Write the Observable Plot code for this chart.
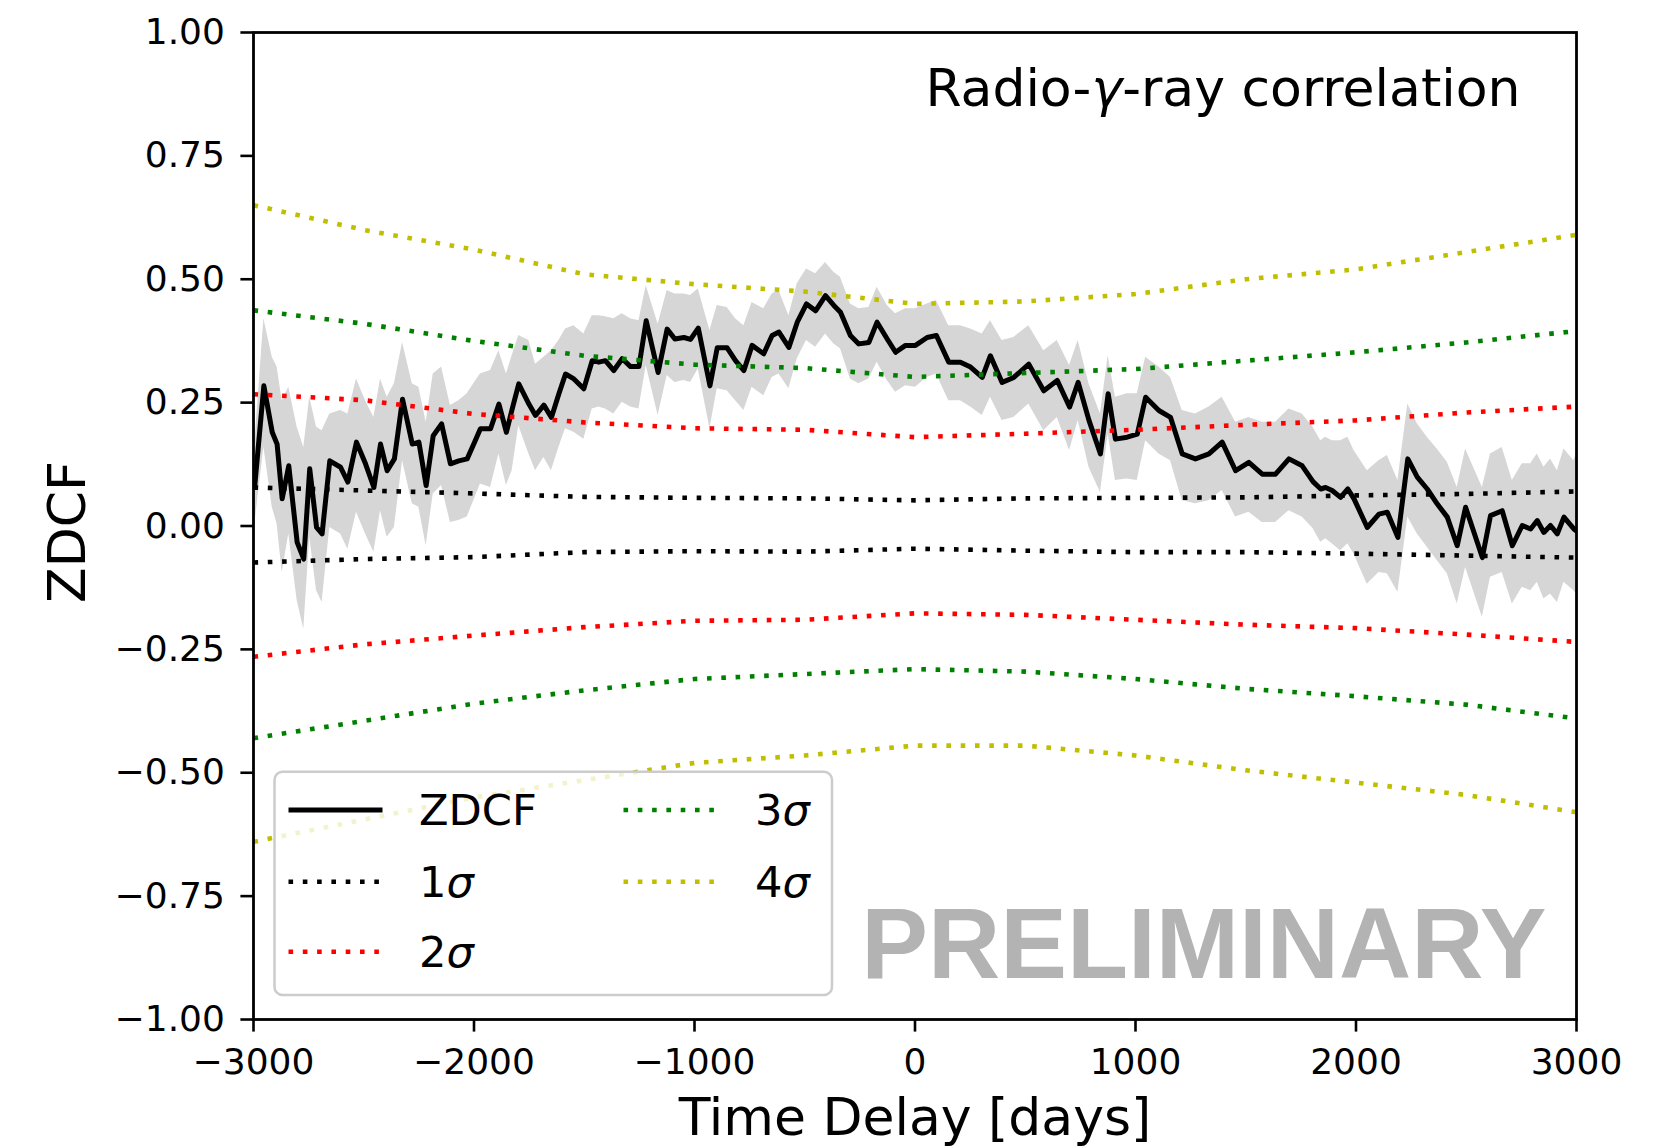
<!DOCTYPE html>
<html>
<head>
<meta charset="utf-8">
<script src="https://cdn.jsdelivr.net/npm/d3@7"></script>
<script src="https://cdn.jsdelivr.net/npm/@observablehq/plot@0.6"></script>
<style>
  html, body { margin: 0; padding: 0; background: #fff; overflow: hidden; }
  #chart svg { display: block; }
</style>
</head>
<body>
<div id="chart"></div>
<script>
// Z-transformed discrete correlation function, radio vs gamma-ray light curves
const lag = [
  -2995, -2953, -2915, -2893, -2870, -2840, -2802, -2772, -2745, -2714,
  -2689, -2654, -2605, -2572, -2533, -2492, -2454, -2424, -2394, -2361,
  -2324, -2280, -2250, -2217, -2185, -2147, -2107, -2069, -2031, -2001,
  -1971, -1925, -1887, -1853, -1827, -1797, -1751, -1721, -1683, -1649,
  -1615, -1585, -1547, -1502, -1464, -1434, -1404, -1366, -1328, -1290,
  -1252, -1219, -1165, -1124, -1089, -1048, -1018, -983, -930, -897,
  -852, -814, -776, -739, -686, -648, -617, -572, -534, -492,
  -451, -406, -368, -338, -293, -255, -209, -172, -126, -88,
  -43, 2, 55, 97, 153, 206, 252, 305, 342, 395,
  448, 516, 584, 645, 701, 740, 789, 841, 876, 909,
  962, 1008, 1046, 1106, 1159, 1212, 1272, 1333, 1393, 1454,
  1514, 1575, 1635, 1696, 1756, 1805, 1840, 1862, 1892, 1930,
  1963, 1991, 2051, 2104, 2142, 2190, 2235, 2278, 2323, 2368,
  2414, 2459, 2497, 2573, 2610, 2663, 2709, 2754, 2792, 2822,
  2852, 2882, 2913, 2943, 2988, 3000
];
const zdcf = [
  0.078, 0.284, 0.19, 0.166, 0.055, 0.122, -0.033, -0.067, 0.116, -0.003,
  -0.016, 0.132, 0.119, 0.089, 0.17, 0.126, 0.078, 0.166, 0.112, 0.136,
  0.257, 0.166, 0.17, 0.082, 0.183, 0.207, 0.126, 0.132, 0.136, 0.166,
  0.197, 0.197, 0.247, 0.19, 0.237, 0.288, 0.247, 0.224, 0.245, 0.22,
  0.268, 0.308, 0.298, 0.278, 0.335, 0.332, 0.335, 0.315, 0.339, 0.323,
  0.323, 0.416, 0.311, 0.399, 0.379, 0.382, 0.378, 0.401, 0.284, 0.361,
  0.361, 0.335, 0.315, 0.366, 0.349, 0.386, 0.393, 0.362, 0.413, 0.45,
  0.436, 0.467, 0.447, 0.433, 0.386, 0.369, 0.372, 0.413, 0.379, 0.352,
  0.366, 0.366, 0.382, 0.386, 0.332, 0.332, 0.322, 0.301, 0.345, 0.291,
  0.301, 0.328, 0.274, 0.295, 0.241, 0.291, 0.214, 0.146, 0.268, 0.176,
  0.18, 0.186, 0.261, 0.234, 0.22, 0.146, 0.136, 0.146, 0.17, 0.112,
  0.129, 0.105, 0.105, 0.136, 0.122, 0.09, 0.075, 0.078, 0.072, 0.058,
  0.075, 0.055, -0.003, 0.024, 0.028, -0.023, 0.136, 0.099, 0.075, 0.045,
  0.018, -0.04, 0.038, -0.064, 0.021, 0.031, -0.04, 0.001, -0.006, 0.011,
  -0.013, 0.001, -0.016, 0.018, -0.006, -0.01
];
// lower and upper bounds of the ZDCF error band
const zdcfLo = [
  0.0, 0.16, 0.038, 0.004, -0.094, -0.016, -0.151, -0.209, -0.023, -0.131,
  -0.155, -0.003, -0.016, -0.047, 0.028, -0.016, -0.053, 0.031, -0.023, -0.003,
  0.132, 0.045, 0.038, -0.04, 0.065, 0.082, 0.007, 0.011, 0.018, 0.051,
  0.085, 0.078, 0.146, 0.082, 0.112, 0.203, 0.146, 0.112, 0.139, 0.112,
  0.159, 0.197, 0.19, 0.176, 0.237, 0.241, 0.237, 0.227, 0.251, 0.241,
  0.237, 0.325, 0.224, 0.305, 0.291, 0.295, 0.291, 0.318, 0.197, 0.278,
  0.274, 0.254, 0.234, 0.281, 0.264, 0.301, 0.308, 0.278, 0.339, 0.376,
  0.362, 0.389, 0.369, 0.359, 0.298, 0.288, 0.298, 0.332, 0.295, 0.271,
  0.284, 0.281, 0.301, 0.308, 0.254, 0.254, 0.241, 0.224, 0.261, 0.214,
  0.22, 0.247, 0.193, 0.22, 0.153, 0.214, 0.119, 0.068, 0.186, 0.092,
  0.095, 0.092, 0.173, 0.146, 0.132, 0.051, 0.045, 0.051, 0.072, 0.018,
  0.028, 0.007, 0.007, 0.031, 0.018, -0.005, -0.033, -0.026, -0.036, -0.05,
  -0.036, -0.057, -0.118, -0.094, -0.097, -0.134, 0.018, -0.016, -0.043, -0.07,
  -0.097, -0.158, -0.084, -0.185, -0.104, -0.094, -0.158, -0.124, -0.131, -0.114,
  -0.148, -0.138, -0.155, -0.114, -0.131, -0.138
];
const zdcfHi = [
  0.16, 0.42, 0.342, 0.322, 0.254, 0.281, 0.2, 0.159, 0.261, 0.2,
  0.193, 0.227, 0.234, 0.227, 0.298, 0.254, 0.22, 0.298, 0.261, 0.288,
  0.372, 0.288, 0.281, 0.21, 0.308, 0.322, 0.244, 0.254, 0.268, 0.288,
  0.308, 0.315, 0.355, 0.308, 0.345, 0.386, 0.376, 0.328, 0.342, 0.355,
  0.376, 0.399, 0.406, 0.389, 0.426, 0.426, 0.424, 0.42, 0.43, 0.42,
  0.416, 0.487, 0.409, 0.477, 0.47, 0.47, 0.467, 0.48, 0.396, 0.447,
  0.443, 0.42, 0.406, 0.453, 0.44, 0.47, 0.477, 0.426, 0.491, 0.521,
  0.511, 0.534, 0.514, 0.504, 0.45, 0.44, 0.443, 0.484, 0.447, 0.43,
  0.44, 0.44, 0.45, 0.457, 0.406, 0.406, 0.399, 0.389, 0.416, 0.376,
  0.382, 0.406, 0.355, 0.376, 0.325, 0.376, 0.288, 0.227, 0.345, 0.261,
  0.268, 0.268, 0.342, 0.322, 0.301, 0.234, 0.227, 0.241, 0.261, 0.21,
  0.22, 0.21, 0.21, 0.237, 0.227, 0.2, 0.173, 0.18, 0.173, 0.173,
  0.18, 0.153, 0.112, 0.132, 0.143, 0.092, 0.247, 0.207, 0.18, 0.156,
  0.129, 0.078, 0.156, 0.078, 0.146, 0.159, 0.092, 0.126, 0.126, 0.146,
  0.119, 0.136, 0.112, 0.156, 0.132, 0.146
];

// significance levels from simulated light curves
const sigmaLag = [-3000, -2500, -2000, -1500, -1000, -500, 0, 500, 1000, 1500, 2000, 2500, 3000];
const sig1Up = [0.078, 0.072, 0.066, 0.059, 0.057, 0.056, 0.052, 0.056, 0.057, 0.058, 0.062, 0.065, 0.07];
const sig1Dn = [-0.074, -0.067, -0.063, -0.053, -0.051, -0.052, -0.046, -0.05, -0.053, -0.053, -0.056, -0.06, -0.064];
const sig2Up = [0.267, 0.255, 0.227, 0.21, 0.198, 0.195, 0.18, 0.187, 0.195, 0.205, 0.214, 0.23, 0.242];
const sig2Dn = [-0.265, -0.24, -0.222, -0.205, -0.192, -0.19, -0.177, -0.18, -0.19, -0.2, -0.207, -0.22, -0.235];
const sig3Up = [0.437, 0.41, 0.375, 0.345, 0.327, 0.32, 0.302, 0.31, 0.318, 0.335, 0.352, 0.372, 0.395];
const sig3Dn = [-0.43, -0.395, -0.36, -0.333, -0.31, -0.3, -0.29, -0.295, -0.31, -0.33, -0.345, -0.362, -0.39];
const sig4Up = [0.65, 0.6, 0.56, 0.51, 0.49, 0.475, 0.45, 0.455, 0.47, 0.5, 0.52, 0.555, 0.59];
const sig4Dn = [-0.64, -0.595, -0.55, -0.515, -0.48, -0.465, -0.445, -0.445, -0.465, -0.495, -0.52, -0.545, -0.58];

const xTicks = [-3000, -2000, -1000, 0, 1000, 2000, 3000];
const yTicks = [-1, -0.75, -0.5, -0.25, 0, 0.25, 0.5, 0.75, 1];

const sigmaNames = ["1", "2", "3", "4"];
const sigmaColors = ["#000000", "#ff0000", "#008000", "#bfbf00"];
const sigmaCurves = [[sig1Up, sig1Dn], [sig2Up, sig2Dn], [sig3Up, sig3Dn], [sig4Up, sig4Dn]];

const W = 1661, H = 1148;
const mL = 253, mR = 85, mT = 32, mB = 129;
const FONT = "'DejaVu Sans', sans-serif";
const DOT = {strokeWidth: 4.6, strokeDasharray: "4.6,9.7", strokeLinecap: "butt"};

const zRows = lag.map((t, i) => ({t, v: zdcf[i], lo: zdcfLo[i], hi: zdcfHi[i]}));

const sigmaMarks = [];
sigmaCurves.forEach((pair, k) => {
  pair.forEach(arr => {
    const rows = sigmaLag.map((t, i) => ({t, v: arr[i]}));
    sigmaMarks.push(Plot.line(rows, {x: "t", y: "v", stroke: sigmaColors[k], ...DOT, clip: true}));
  });
});

const chart = Plot.plot({
  width: W, height: H,
  marginLeft: mL, marginRight: mR, marginTop: mT, marginBottom: mB,
  style: {fontFamily: FONT, fontSize: "36px", color: "black", background: "white", overflow: "visible"},
  x: {domain: [-3000, 3000]},
  y: {domain: [-1, 1]},
  marks: [
    Plot.areaY(zRows, {x: "t", y1: "lo", y2: "hi", fill: "#d6d6d6", clip: true}),
    Plot.line(zRows, {x: "t", y: "v", stroke: "black", strokeWidth: 5, clip: true}),
    ...sigmaMarks,
    Plot.frame({stroke: "black", strokeWidth: 2.8}),
    Plot.axisX({ticks: xTicks, tickFormat: d3.format("d"), tickSize: 12.6, tickPadding: 16,
      strokeWidth: 2.6, label: null, fontSize: 36}),
    Plot.axisY({ticks: yTicks, tickFormat: d3.format(".2f"), tickSize: 12.6, tickPadding: 16,
      strokeWidth: 2.6, label: null, fontSize: 36}),
    Plot.text(["Time Delay [days]"], {text: d => d, frameAnchor: "bottom", lineAnchor: "top",
      dy: 79, fontSize: 52}),
    Plot.text(["ZDCF"], {text: d => d, frameAnchor: "left", textAnchor: "middle", rotate: -90,
      lineAnchor: "middle", dx: -185, dy: 6, fontSize: 52}),
    Plot.text(["Radio-γ-ray correlation"], {text: d => d, frameAnchor: "top-right", textAnchor: "end",
      lineAnchor: "top", dx: -56, dy: 37, fontSize: 52}),
    Plot.text(["PRELIMINARY"], {text: d => d, frameAnchor: "bottom-right", textAnchor: "end",
      lineAnchor: "bottom", dx: -30, dy: -42, fontSize: 100, fontWeight: "bold",
      fontFamily: "'Liberation Sans', Arial, sans-serif", fill: "#b3b3b3"})
  ]
});

document.getElementById("chart").appendChild(chart);
const svg = d3.select(chart);

// italic gamma in the panel title
svg.selectAll("text").each(function () {
  if (this.textContent === "Radio-γ-ray correlation") {
    const t = d3.select(this);
    t.text(null);
    t.append("tspan").text("Radio-");
    t.append("tspan").attr("font-style", "italic").text("γ");
    t.append("tspan").text("-ray correlation");
  }
});

// legend box in the lower-left corner of the axes
const frameLeft = mL, frameBottom = H - mB;
const box = {x: frameLeft + 21.5, y: frameBottom - 247.3, w: 557.5, h: 223.3};
const lg = svg.append("g")
  .attr("font-family", FONT).attr("font-size", 43.2).attr("text-anchor", "start");
lg.append("rect")
  .attr("x", box.x).attr("y", box.y).attr("width", box.w).attr("height", box.h)
  .attr("rx", 8).attr("ry", 8)
  .attr("fill", "white").attr("fill-opacity", 0.8)
  .attr("stroke", "#cccccc").attr("stroke-width", 2.5);

const colX = [{h: box.x + 14, t: box.x + 144.5}, {h: box.x + 349, t: box.x + 480.5}];
const rowY = [box.y + 38.3, box.y + 110, box.y + 180];
const handleLen = 94;
const entries = [
  {col: 0, row: 0, label: "ZDCF", stroke: "black", solid: true},
  {col: 0, row: 1, label: sigmaNames[0], stroke: sigmaColors[0]},
  {col: 0, row: 2, label: sigmaNames[1], stroke: sigmaColors[1]},
  {col: 1, row: 0, label: sigmaNames[2], stroke: sigmaColors[2]},
  {col: 1, row: 1, label: sigmaNames[3], stroke: sigmaColors[3]}
];
entries.forEach(e => {
  const hx = colX[e.col].h, tx = colX[e.col].t, y = rowY[e.row];
  const ln = lg.append("line")
    .attr("x1", hx).attr("x2", hx + handleLen).attr("y1", y).attr("y2", y)
    .attr("stroke", e.stroke);
  if (e.solid) ln.attr("stroke-width", 5);
  else ln.attr("stroke-width", DOT.strokeWidth).attr("stroke-dasharray", DOT.strokeDasharray);
  const txt = lg.append("text").attr("x", tx).attr("y", y + 15).attr("fill", "black");
  if (e.solid) txt.text(e.label);
  else {
    txt.append("tspan").text(e.label);
    txt.append("tspan").attr("font-style", "italic").text("σ");
  }
});
</script>
</body>
</html>
